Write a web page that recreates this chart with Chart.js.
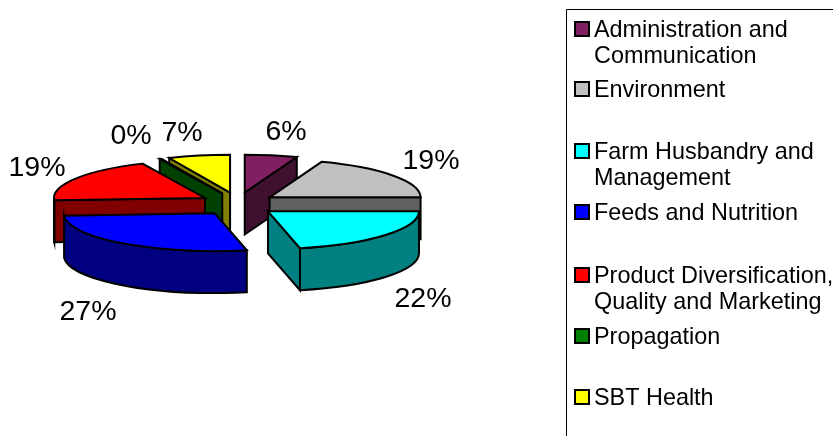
<!DOCTYPE html>
<html><head><meta charset="utf-8">
<style>html,body{margin:0;padding:0;background:#fff}canvas{display:block}</style>
<script src="https://cdn.jsdelivr.net/npm/chart.js@4"></script></head>
<body><canvas id="c" width="833" height="436"></canvas>
<script>
const categories = [
  ["Administration and","Communication"],["Environment"],["Farm Husbandry and","Management"],
  ["Feeds and Nutrition"],["Product Diversification,","Quality and Marketing"],["Propagation"],["SBT Health"]];
const values = [5.6,19.4,21.6,27.4,19.2,0.2,6.6];
const topColors = ["#802060","#c0c0c0","#00ffff","#0000ff","#ff0000","#008000","#ffff00"];
const sideColors = ["#401030","#606060","#008080","#000080","#800000","#004000","#808000"];
const paintOrder = [6,0,1,5,4,2,3];
const labelAnchors = [[286,132],[431,161],[423,299],[88,312],[37,168],[131,136],[182,133]];
const legendRows = [29,89,151,212,275,336,397];

const SQUASH=0.25, DEPTH=42, EXPLODE_X=38.5, EXPLODE_Y=11.7, LW=2;
const total = values.reduce((a,b)=>a+b,0);

const pie3d = {
  id:'pie3d',
  beforeDatasetDraw(chart,args){
    const ctx=chart.ctx, arcs=chart.getDatasetMeta(0).data;
    ctx.save();
    ctx.lineWidth=LW; ctx.lineJoin='miter'; ctx.strokeStyle='#000';
    for(const i of paintOrder){
      const arc=arcs[i], a0=arc.startAngle, a1=arc.endAngle, r=arc.outerRadius;
      const mid=(a0+a1)/2;
      const ax=arc.x+Math.cos(mid)*EXPLODE_X, ay=arc.y+Math.sin(mid)*EXPLODE_Y;
      const px=a=>ax+r*Math.cos(a), py=a=>ay+r*SQUASH*Math.sin(a);
      const face=a=>{
        ctx.beginPath();ctx.moveTo(ax,ay);ctx.lineTo(px(a),py(a));
        ctx.lineTo(px(a),py(a)+DEPTH);ctx.lineTo(ax,ay+DEPTH);ctx.closePath();
        ctx.fillStyle=sideColors[i];ctx.fill();ctx.stroke();
      };
      if(Math.cos(a0)<0) face(a0);
      if(Math.cos(a1)>0) face(a1);
      const w0=Math.max(a0,0), w1=Math.min(a1,Math.PI);
      if(w1>w0){
        ctx.beginPath();
        ctx.ellipse(ax,ay,r,r*SQUASH,0,w0,w1);
        ctx.ellipse(ax,ay+DEPTH,r,r*SQUASH,0,w1,w0,true);
        ctx.closePath();
        ctx.fillStyle=sideColors[i];ctx.fill();ctx.stroke();
      }
      ctx.save();
      ctx.translate(ax,ay);ctx.scale(1,SQUASH);ctx.translate(-arc.x,-arc.y);
      arc.draw(ctx);
      ctx.restore();
      ctx.beginPath();ctx.moveTo(ax,ay);
      ctx.ellipse(ax,ay,r,r*SQUASH,0,a0,a1);ctx.closePath();ctx.stroke();
    }
    ctx.restore();
    return false;
  },
  afterDraw(chart){
    const ctx=chart.ctx;
    ctx.save();
    ctx.fillStyle='#000';ctx.textAlign='center';ctx.textBaseline='middle';
    ctx.font='28.5px "Liberation Sans", Arial, sans-serif';
    values.forEach((v,i)=>ctx.fillText(Math.round(v/total*100)+'%',labelAnchors[i][0],labelAnchors[i][1]));
    ctx.strokeStyle='#000';ctx.lineWidth=1;
    ctx.beginPath();ctx.moveTo(566.5,436);ctx.lineTo(566.5,9.5);ctx.lineTo(833,9.5);ctx.stroke();
    ctx.textAlign='left';
    ctx.font='23.4px "Liberation Sans", Arial, sans-serif';
    categories.forEach((lines,i)=>{
      const y=legendRows[i];
      ctx.fillStyle=topColors[i];ctx.fillRect(575,y-7,14,14);
      ctx.lineWidth=2;ctx.strokeRect(575,y-7,14,14);
      ctx.fillStyle='#000';
      lines.forEach((t,k)=>ctx.fillText(t,594,y+1.5+k*26));
    });
    ctx.restore();
  }
};

new Chart(document.getElementById('c'),{
  type:'pie',
  data:{labels:categories.map(l=>l.join(' ')),datasets:[{data:values,backgroundColor:topColors,borderWidth:0}]},
  options:{responsive:false,animation:false,radius:151,
    layout:{padding:{right:357,bottom:28}},
    plugins:{legend:{display:false},tooltip:{enabled:false}}},
  plugins:[pie3d]
});
</script></body></html>
